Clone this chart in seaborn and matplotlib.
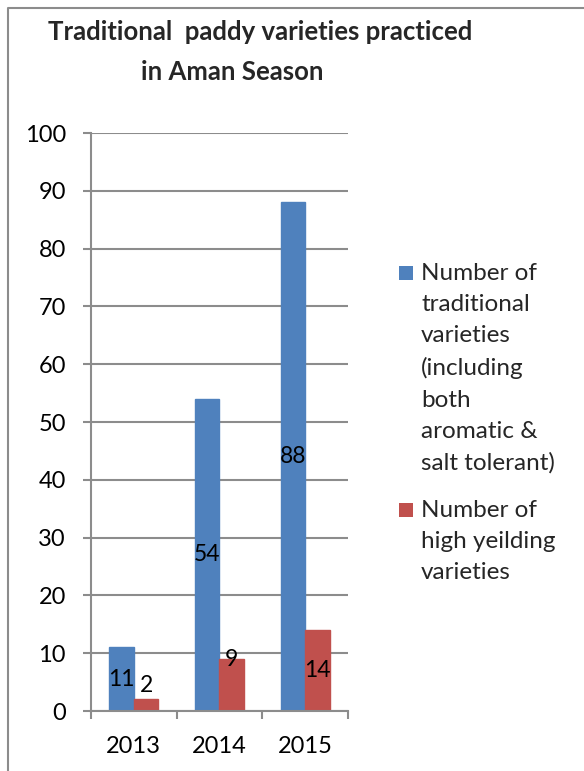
import matplotlib
matplotlib.use("Agg")
import matplotlib.pyplot as plt
from matplotlib.lines import Line2D
from matplotlib.patches import Rectangle
import seaborn as sns
import pandas as pd

# Chart data
years = ["2013", "2014", "2015"]
traditional = [11, 54, 88]
high_yielding = [2, 9, 14]
series_names = [
    "Number of\ntraditional\nvarieties\n(including\nboth\naromatic &\nsalt tolerant)",
    "Number of\nhigh yeilding\nvarieties",
]
y_ticks = list(range(0, 101, 10))

colors = ["#4F81BD", "#C0504D"]
grey = "#8C8C8C"

sns.set_theme(style="white")
plt.rcParams["font.family"] = ["Lato", "DejaVu Sans"]

df = pd.DataFrame({
    "Year": years * 2,
    "Count": traditional + high_yielding,
    "Series": [series_names[0]] * len(years) + [series_names[1]] * len(years),
})

W, H = 584, 771
fig = plt.figure(figsize=(W / 100, H / 100), dpi=100)
fig.patch.set_facecolor("white")

ax = fig.add_axes([91 / W, 1 - 711 / H, (348 - 91) / W, (711 - 133) / H])
sns.barplot(data=df, x="Year", y="Count", hue="Series", palette=colors,
            width=0.57, saturation=1, ax=ax, legend=False, errorbar=None)

ax.set_ylim(0, 100)
ax.set_xlim(-0.5, len(years) - 0.5)
ax.set_xlabel("")
ax.set_ylabel("")
ax.set_axisbelow(True)
ax.yaxis.grid(True, color=grey, lw=1.5)
ax.xaxis.grid(False)

for side in ["top", "right"]:
    ax.spines[side].set_visible(False)
for side in ["left", "bottom"]:
    ax.spines[side].set_color(grey)
    ax.spines[side].set_linewidth(1.5)

ax.set_yticks(y_ticks)
ax.set_yticklabels([str(t) for t in y_ticks])
ax.tick_params(axis="y", direction="out", length=6, width=1.5, color=grey,
               pad=12, labelsize=17, labelcolor="black", left=True)
ax.set_xticks(range(len(years)))
ax.set_xticklabels(years)
ax.set_xticks([i - 0.5 for i in range(len(years) + 1)], minor=True)
ax.tick_params(axis="x", which="major", length=0, pad=18, labelsize=17,
               labelcolor="black")
ax.tick_params(axis="x", which="minor", direction="out", length=6, width=1.5,
               color=grey, bottom=True)

# Value labels, centred in each bar (short red bars lift their label)
label_lift_px = [[0, 0, 0], [20, 25, 0]]
for s, (container, values) in enumerate(zip(ax.containers, [traditional, high_yielding])):
    for i, (bar, v) in enumerate(zip(container, values)):
        bar.set_edgecolor(bar.get_facecolor())
        x = bar.get_x() + bar.get_width() / 2
        ax.annotate(str(v), (x, v / 2), xytext=(0, label_lift_px[s][i] * 0.72),
                    textcoords="offset points", ha="center", va="center",
                    fontsize=16.5, color="black")

# Title
fig.text(260 / W, 1 - 32 / H, "Traditional  paddy varieties practiced",
         ha="center", va="center", fontsize=18.5, fontweight="bold")
fig.text(232 / W, 1 - 72 / H, "in Aman Season",
         ha="center", va="center", fontsize=18.5, fontweight="bold")

# Legend
legend_tops = [263, 500]
for name, col, top in zip(series_names, colors, legend_tops):
    fig.add_artist(Rectangle((399 / W, 1 - (top + 17) / H), 14 / W, 14 / H,
                             transform=fig.transFigure, facecolor=col,
                             edgecolor="none"))
    fig.text(421 / W, 1 - top / H, name, ha="left", va="top", fontsize=17.5,
             linespacing=1.6)

# Chart area border
fig.add_artist(Line2D([8 / W, 8 / W, 1.0], [0.0, 1 - 8 / H, 1 - 8 / H],
                      transform=fig.transFigure, color=grey, lw=1.5))

fig.savefig("out.png", dpi=100)
